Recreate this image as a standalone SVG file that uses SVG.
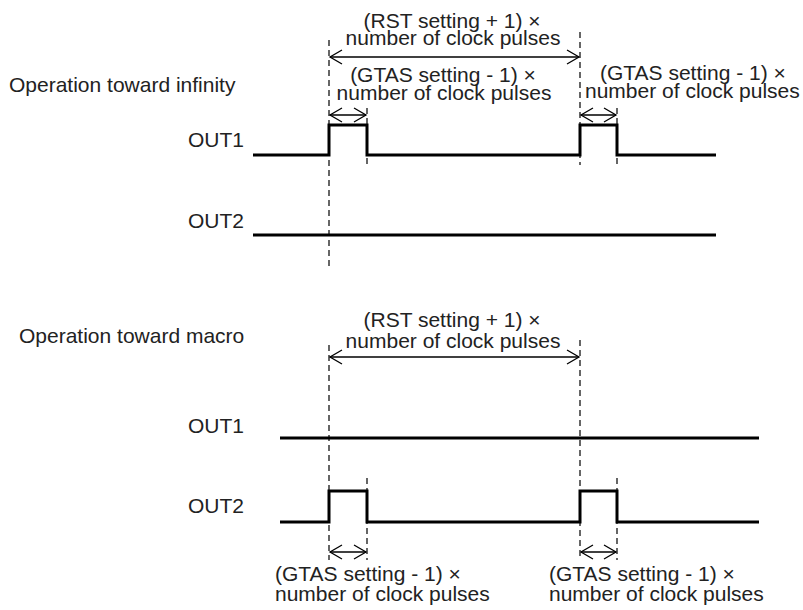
<svg xmlns="http://www.w3.org/2000/svg" width="803" height="610" viewBox="0 0 803 610">
<style>
text{font-family:"Liberation Sans",Arial,sans-serif;font-size:21px;fill:#222}
.sig{fill:none;stroke:#000;stroke-width:3;stroke-linejoin:miter}
.dash{fill:none;stroke:#000;stroke-width:1.2;stroke-dasharray:6 4}
.dim{fill:none;stroke:#000;stroke-width:1.3}
</style>
<defs>
<marker id="ah" viewBox="-14 -9 16 18" markerWidth="16" markerHeight="18" refX="0" refY="0" orient="auto-start-reverse" markerUnits="userSpaceOnUse">
<path d="M-12,-7 L0,0 L-12,7" fill="none" stroke="#000" stroke-width="1.3"/>
</marker>
</defs>
<rect width="803" height="610" fill="#fff"/>

<g id="title-infinity"><text x="9" y="92">Operation toward infinity</text></g>
<g id="title-macro"><text x="19" y="343">Operation toward macro</text></g>

<g id="top-out1">
<text x="188" y="147">OUT1</text>
<path class="sig" d="M253,155 H329 V125 H367 V155 H580 V125 H617 V155 H716"/>
</g>
<g id="top-out2">
<text x="188" y="228">OUT2</text>
<path class="sig" d="M253,235 H716"/>
</g>
<g id="bot-out1">
<text x="188" y="433">OUT1</text>
<path class="sig" d="M280,438 H759"/>
</g>
<g id="bot-out2">
<text x="188" y="513">OUT2</text>
<path class="sig" d="M280,522 H329 V491 H367 V522 H580 V491 H617 V522 H759"/>
</g>

<g id="top-rst-label">
<text x="452" y="28" text-anchor="middle">(RST setting + 1) ×</text>
<text x="453" y="45" text-anchor="middle">number of clock pulses</text>
</g>
<g id="top-gtas1-label">
<text x="443" y="82" text-anchor="middle">(GTAS setting - 1) ×</text>
<text x="444" y="100" text-anchor="middle">number of clock pulses</text>
</g>
<g id="top-gtas2-label">
<text x="600" y="80">(GTAS setting - 1) ×</text>
<text x="585" y="98">number of clock pulses</text>
</g>
<g id="bot-rst-label">
<text x="452" y="327" text-anchor="middle">(RST setting + 1) ×</text>
<text x="453" y="348" text-anchor="middle">number of clock pulses</text>
</g>
<g id="bot-gtas1-label">
<text x="275" y="581">(GTAS setting - 1) ×</text>
<text x="275" y="601">number of clock pulses</text>
</g>
<g id="bot-gtas2-label">
<text x="549" y="581">(GTAS setting - 1) ×</text>
<text x="549" y="601">number of clock pulses</text>
</g>

<g id="connectors">
<path class="dash" d="M329,40 V270"/>
<path class="dash" d="M580,32 V165"/>
<path class="dash" d="M367,108 V165"/>
<path class="dash" d="M617,108 V165"/>
<path class="dash" d="M329,345 V560"/>
<path class="dash" d="M580,340 V560"/>
<path class="dash" d="M367,478 V560"/>
<path class="dash" d="M617,478 V560"/>
<path class="dim" d="M330,57 H579" marker-start="url(#ah)" marker-end="url(#ah)"/>
<path class="dim" d="M330,115 H366" marker-start="url(#ah)" marker-end="url(#ah)"/>
<path class="dim" d="M581,115 H616" marker-start="url(#ah)" marker-end="url(#ah)"/>
<path class="dim" d="M330,357 H579" marker-start="url(#ah)" marker-end="url(#ah)"/>
<path class="dim" d="M330,552 H366" marker-start="url(#ah)" marker-end="url(#ah)"/>
<path class="dim" d="M581,552 H616" marker-start="url(#ah)" marker-end="url(#ah)"/>
</g>
</svg>
